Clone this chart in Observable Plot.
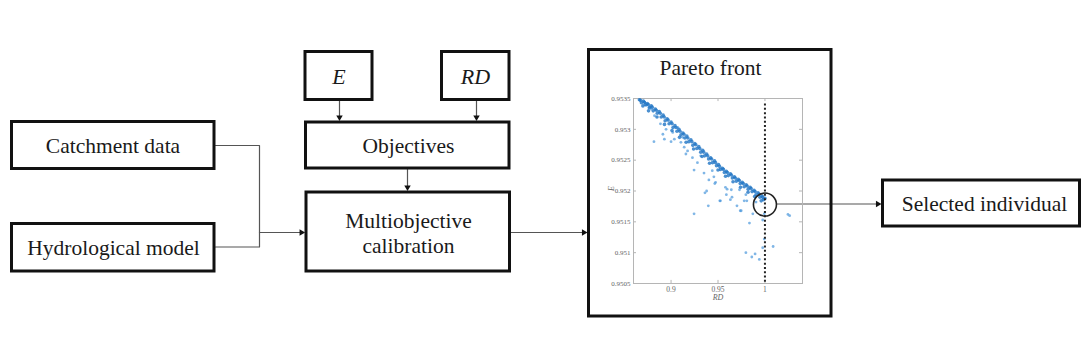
<!DOCTYPE html>
<html><head><meta charset="utf-8">
<script src="https://cdn.jsdelivr.net/npm/d3@7"></script>
<script src="https://cdn.jsdelivr.net/npm/@observablehq/plot@0.6"></script>
<style>
html,body{margin:0;padding:0;background:#fff;}
#wrap{position:relative;width:1082px;height:364px;overflow:hidden;background:#fff;}
#wrap svg{position:absolute;}
</style></head><body><div id="wrap"></div>
<script>
// ---------- data ----------
const boxNames = ["Catchment data","Hydrological model","E","RD","Objectives","Multiobjective\ncalibration","Pareto front","Selected individual"];
const italicNames = ["E","RD"];

// Pareto front (dense band), RD and E
const frontRD = [0.8663,0.8705,0.8747,0.8789,0.8832,0.8874,0.8916,0.8958,0.9000,0.9042,0.9084,0.9126,0.9168,0.9211,0.9253,0.9295,0.9337,0.9379,0.9421,0.9463,0.9505,0.9547,0.9589,0.9632,0.9674,0.9716,0.9758,0.9800,0.9842,0.9884,0.9926,0.9968,1.0000,
  0.8684,0.8726,0.8768,0.8810,0.8853,0.8895,0.8937,0.8979,0.9021,0.9063,0.9105,0.9147,0.9190,0.9232,0.9274,0.9316,0.9358,0.9400,0.9442,0.9484,0.9526,0.9568,0.9610,0.9653,0.9695,0.9737,0.9779,0.9821,0.9863,0.9905,0.9947,0.9984,
  0.8674,0.8716,0.8758,0.8800,0.8843,0.8885,0.8927,0.8969,0.9011,0.9053,0.9095,0.9137,0.9179,0.9222,0.9264,0.9306,0.9348,0.9390,0.9432,0.9474,0.9516,0.9558,0.9600,0.9643,0.9685,0.9727,0.9769,0.9811,0.9853,0.9895,0.9937,0.9976,
  0.8700,0.8760,0.8850,0.8930,0.9010,0.9090,0.9160,0.9240,0.9330,0.9410,0.9500,0.9580,0.9660,0.9740,0.9820,0.9890,0.9960];
const frontE = [0.95348,0.95346,0.95342,0.95338,0.95333,0.95329,0.95323,0.95317,0.95312,0.95306,0.95300,0.95294,0.95289,0.95283,0.95277,0.95272,0.95266,0.95260,0.95254,0.95249,0.95243,0.95237,0.95232,0.95228,0.95223,0.95219,0.95214,0.95210,0.95206,0.95201,0.95197,0.95192,0.95188,
  0.95343,0.95340,0.95335,0.95330,0.95326,0.95320,0.95314,0.95309,0.95303,0.95297,0.95291,0.95286,0.95280,0.95274,0.95269,0.95263,0.95257,0.95252,0.95246,0.95241,0.95235,0.95230,0.95225,0.95221,0.95216,0.95212,0.95207,0.95203,0.95199,0.95194,0.95190,0.95186,
  0.95347,0.95344,0.95340,0.95336,0.95331,0.95326,0.95320,0.95315,0.95309,0.95303,0.95297,0.95292,0.95286,0.95280,0.95275,0.95269,0.95263,0.95257,0.95252,0.95246,0.95240,0.95235,0.95230,0.95226,0.95221,0.95217,0.95212,0.95208,0.95204,0.95199,0.95195,0.95190,
  0.95338,0.95330,0.95320,0.95308,0.95298,0.95287,0.95279,0.95268,0.95256,0.95245,0.95234,0.95224,0.95215,0.95206,0.95198,0.95191,0.95184];

// dominated individuals (scatter)
const otherRD = [0.8818,0.8913,0.8929,0.8887,0.8824,0.8789,0.8947,0.9000,0.9035,0.9018,0.9071,0.9105,0.9140,0.9158,0.9176,0.9123,0.9228,0.9245,0.9281,0.9316,0.9351,0.9403,0.9439,0.9456,0.9474,0.9245,0.9361,0.9379,0.9397,0.9466,0.9519,0.9579,0.9589,0.9642,0.9649,0.9702,0.9729,0.9737,0.9779,0.9797,0.9835,0.9871,0.9905,0.9976,0.9993,1.0245,1.0263,0.9797,0.9860,0.9895,0.9940,0.9976,0.9993,1.0087,0.9526,0.9632,0.9747,0.9597,0.9807,0.8719,0.8737,0.8772];
const otherE = [0.95280,0.95292,0.95284,0.95309,0.95322,0.95333,0.95300,0.95280,0.95284,0.95295,0.95303,0.95279,0.95271,0.95260,0.95265,0.95287,0.95254,0.95234,0.95246,0.95257,0.95229,0.95218,0.95233,0.95223,0.95214,0.95163,0.95197,0.95200,0.95176,0.95212,0.95184,0.95206,0.95194,0.95202,0.95190,0.95176,0.95202,0.95168,0.95184,0.95194,0.95148,0.95163,0.95182,0.95153,0.95163,0.95162,0.95160,0.95100,0.95093,0.95098,0.95089,0.95108,0.95122,0.95110,0.95184,0.95186,0.95168,0.95203,0.95184,0.95344,0.95339,0.95336];

const selectedRD = [1.0];
const selectedE = [0.95178];

const xTicks = [0.9, 0.95, 1];
const xTickLabels = ["0.9", "0.95", "1"];
const yTicks = [0.9505, 0.951, 0.9515, 0.952, 0.9525, 0.953, 0.9535];
const yTickLabels = ["0.9505", "0.951", "0.9515", "0.952", "0.9525", "0.953", "0.9535"];
const xDomain = [0.86, 1.04];
const yDomain = [0.9505, 0.9535];
const xAxisLabel = "RD";
const yAxisLabel = "E";

// ---------- layout (positions, px) ----------
const boxLayout = [
  {x1:11.5, x2:214,   y1:121.5, y2:168.5, tx:112.5, ty:145},
  {x1:11.5, x2:214,   y1:223.5, y2:271,   tx:113,   ty:246.5},
  {x1:305,  x2:372,   y1:51.5,  y2:99.5,  tx:338.5, ty:76},
  {x1:441.5,x2:509,   y1:51.5,  y2:99.5,  tx:475,   ty:76},
  {x1:305.5,x2:509,   y1:122,   y2:168,   tx:408,   ty:145},
  {x1:306,  x2:509.5, y1:192,   y2:271,   tx:408,   ty:232.3},
  {x1:588.5,x2:831,   y1:49.5,  y2:316,   tx:710,   ty:66.5},
  {x1:882.5,x2:1079.5,y1:180,   y2:226,   tx:984,   ty:203}
];
const boxes = boxNames.map((name, i) => ({name, italic: italicNames.includes(name), ...boxLayout[i]}));

const connectors = [
  {id:"c1", pts:[[215,145],[259,145],[259,246.5],[215,246.5]]},
  {id:"c2", pts:[[259,232],[301,232]]},
  {id:"c3", pts:[[339,100],[339,117]]},
  {id:"c4", pts:[[476,100],[476,117]]},
  {id:"c5", pts:[[407,169],[407,187]]},
  {id:"c6", pts:[[510,232],[583,232]]},
  {id:"c7", pts:[[776,203.5],[877,203.5]]}
].flatMap(c => c.pts.map(([x,y]) => ({id:c.id, x, y})));

const heads = [
  {x:300.9, y:232,   rot:90},
  {x:339,   y:116.8, rot:180},
  {x:476,   y:116.8, rot:180},
  {x:407,   y:186.8, rot:180},
  {x:583.3, y:232,   rot:90},
  {x:877.3, y:203.5, rot:90}
];

const serif = "Liberation Serif, Times New Roman, serif";
const wrap = document.getElementById("wrap");

// ---------- outer diagram ----------
const outer = Plot.plot({
  width: 1082, height: 364,
  marginTop: 0, marginRight: 0, marginBottom: 0, marginLeft: 0,
  x: {domain: [0, 1082], range: [0, 1082], axis: null},
  y: {domain: [0, 364], range: [0, 364], axis: null},
  style: {background: "transparent", fontFamily: serif},
  marks: [
    Plot.rect(boxes, {x1: "x1", x2: "x2", y1: "y1", y2: "y2", fill: "white"}),
    Plot.line(connectors, {x: "x", y: "y", z: "id", stroke: "#555", strokeWidth: 1.2}),
    Plot.rect(boxes, {x1: "x1", x2: "x2", y1: "y1", y2: "y2", fill: "none", stroke: "#111", strokeWidth: 3}),
    Plot.dot(heads, {x: "x", y: "y", rotate: "rot", symbol: "triangle", r: 2.4, fill: "#111", stroke: "none"}),
    Plot.text(boxes.filter(d => !d.italic), {x: "tx", y: "ty", text: "name", fontSize: 21.5, fontFamily: serif, fill: "#1a1a1a", lineHeight: 1.16}),
    Plot.text(boxes.filter(d => d.italic), {x: "tx", y: "ty", text: "name", fontSize: 22, fontFamily: serif, fontStyle: "italic", fill: "#1a1a1a"})
  ]
});
outer.style.left = "0px"; outer.style.top = "0px";
wrap.appendChild(outer);

// ---------- inner Pareto scatter ----------
const front = frontRD.map((x, i) => ({RD: x, E: frontE[i]}));
const others = otherRD.map((x, i) => ({RD: x, E: otherE[i]}));
const sel = selectedRD.map((x, i) => ({RD: x, E: selectedE[i]}));
const xTickLen = 0.0032, yTickLen = 0.00005;

const inner = Plot.plot({
  width: 240, height: 225,
  marginLeft: 43, marginRight: 28, marginTop: 10, marginBottom: 30,
  x: {domain: xDomain},
  y: {domain: yDomain},
  style: {background: "transparent", overflow: "visible", fontFamily: serif},
  marks: [
    Plot.frame({stroke: "#b5b5b5", strokeWidth: 1}),
    Plot.ruleY(yTicks, {y: d => d, x1: xDomain[0], x2: xDomain[0] + xTickLen, stroke: "#b5b5b5"}),
    Plot.ruleY(yTicks, {y: d => d, x1: xDomain[1] - xTickLen, x2: xDomain[1], stroke: "#b5b5b5"}),
    Plot.ruleX(xTicks, {x: d => d, y1: yDomain[0], y2: yDomain[0] + yTickLen, stroke: "#b5b5b5"}),
    Plot.ruleX(xTicks, {x: d => d, y1: yDomain[1] - yTickLen, y2: yDomain[1], stroke: "#b5b5b5"}),
    Plot.axisY(yTicks, {anchor: "left", tickSize: 0, tickPadding: 3, label: null, tickFormat: d => yTickLabels[yTicks.indexOf(d)], fontSize: 7, fontFamily: serif, fill: "#666"}),
    Plot.axisX(xTicks, {anchor: "bottom", tickSize: 0, tickPadding: 3, label: null, tickFormat: d => xTickLabels[xTicks.indexOf(d)], fontSize: 7.5, fontFamily: serif, fill: "#666"}),
    Plot.text([yAxisLabel], {frameAnchor: "left", dx: -22, rotate: -90, text: d => d, fontSize: 8, fontStyle: "italic", fontFamily: serif, fill: "#666"}),
    Plot.text([xAxisLabel], {frameAnchor: "bottom", dy: 16, text: d => d, fontSize: 8, fontStyle: "italic", fontFamily: serif, fill: "#666"}),
    Plot.dot(others, {x: "RD", y: "E", r: 1.4, fill: "#4a97dc", fillOpacity: 0.7, stroke: "none"}),
    Plot.dot(front, {x: "RD", y: "E", r: 1.8, fill: "#1f74c4", fillOpacity: 0.8, stroke: "none"}),
    Plot.ruleX(selectedRD, {x: d => d, y1: 0.95341, y2: yDomain[0], stroke: "#222", strokeWidth: 2, strokeDasharray: "2,2.3"}),
    Plot.dot(sel, {x: "RD", y: "E", r: 11.5, fill: "none", stroke: "#222", strokeWidth: 1.6})
  ]
});
inner.style.left = "590px"; inner.style.top = "88px";
wrap.appendChild(inner);
</script>
</body></html>
